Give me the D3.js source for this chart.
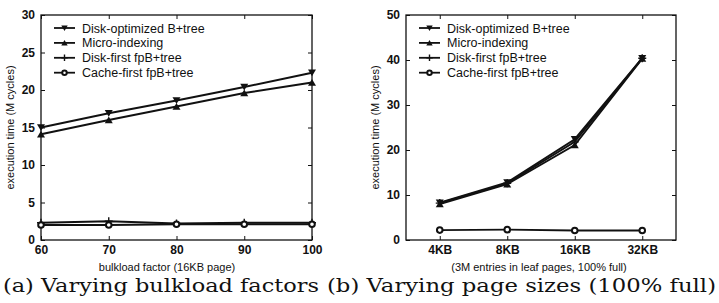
<!DOCTYPE html>
<html>
<head>
<meta charset="utf-8">
<script src="https://cdn.jsdelivr.net/npm/d3@7"></script>
<style>
  html, body { margin: 0; padding: 0; background: #fff; }
  svg { display: block; }
  .tick text { font-family: "Liberation Sans", Arial, sans-serif; font-size: 12px; font-weight: bold; fill: #111; }
  .lbl { font-family: "Liberation Sans", Arial, sans-serif; font-size: 11px; fill: #111; }
  .leg { font-family: "Liberation Sans", Arial, sans-serif; font-size: 12.5px; fill: #111; }
  .cap { font-family: "DejaVu Serif", "Liberation Serif", serif; font-size: 18px; fill: #111; }
</style>
</head>
<body>
<svg id="chart" width="719" height="303"></svg>
<script>
const seriesNames = ["Disk-optimized B+tree", "Micro-indexing", "Disk-first fpB+tree", "Cache-first fpB+tree"];
const markers = ["down", "up", "plus", "circle"];

// (a) bulkload factor
const bulkloadX = [60, 70, 80, 90, 100];
const bulkDiskOpt = [15.0, 16.9, 18.6, 20.4, 22.3];
const bulkMicro = [14.1, 16.0, 17.8, 19.6, 21.0];
const bulkDiskFirst = [2.3, 2.5, 2.2, 2.3, 2.3];
const bulkCacheFirst = [2.0, 2.0, 2.1, 2.1, 2.1];
const bulkTicksY = [0, 5, 10, 15, 20, 25, 30];

// (b) page sizes
const pageSizes = ["4KB", "8KB", "16KB", "32KB"];
const pageDiskOpt = [8.3, 12.8, 22.4, 40.4];
const pageMicro = [8.0, 12.4, 21.1, 40.3];
const pageDiskFirst = [8.2, 12.6, 21.8, 40.4];
const pageCacheFirst = [2.2, 2.3, 2.1, 2.1];
const pageTicksY = [0, 10, 20, 30, 40, 50];

const svg = d3.select("#chart");

function drawMarker(g, type, cx, cy, s) {
  if (type === "down") {
    g.append("path").attr("d", `M${cx - s},${cy - s * 0.8} L${cx + s},${cy - s * 0.8} L${cx},${cy + s * 0.9} Z`)
      .attr("fill", "#111");
  } else if (type === "up") {
    g.append("path").attr("d", `M${cx - s},${cy + s * 0.8} L${cx + s},${cy + s * 0.8} L${cx},${cy - s * 0.9} Z`)
      .attr("fill", "#111");
  } else if (type === "plus") {
    g.append("path").attr("d", `M${cx - s},${cy} L${cx + s},${cy} M${cx},${cy - s} L${cx},${cy + s}`)
      .attr("stroke", "#111").attr("stroke-width", 1.4);
  } else {
    g.append("circle").attr("cx", cx).attr("cy", cy).attr("r", s * 0.7)
      .attr("fill", "#fff").attr("stroke", "#111").attr("stroke-width", 2);
  }
}

function panel(opts) {
  const { left, right, top, bottom, x, xVals, yMax, yTicks, series, xLabel, xLabelX, caption, capX, capLen, yLabelX } = opts;
  const y = d3.scaleLinear().domain([0, yMax]).range([bottom, top]);
  const g = svg.append("g");

  // box
  g.append("rect").attr("x", left).attr("y", top).attr("width", right - left).attr("height", bottom - top)
    .attr("fill", "none").attr("stroke", "#111").attr("stroke-width", 1.3);

  // axes with inward ticks
  g.append("g").attr("transform", `translate(${left},0)`)
    .call(d3.axisLeft(y).tickValues(yTicks).tickSize(-4).tickPadding(6))
    .call(a => a.select(".domain").remove());
  g.append("g").attr("transform", `translate(${right},0)`)
    .call(d3.axisRight(y).tickValues(yTicks).tickSize(-4).tickFormat(""))
    .call(a => a.select(".domain").remove());
  g.append("g").attr("transform", `translate(0,${bottom})`)
    .call(d3.axisBottom(x).tickValues(xVals).tickSize(-4).tickPadding(5))
    .call(a => a.select(".domain").remove());
  g.append("g").attr("transform", `translate(0,${top})`)
    .call(d3.axisTop(x).tickValues(xVals).tickSize(-4).tickFormat(""))
    .call(a => a.select(".domain").remove());
  g.selectAll(".tick line").attr("stroke", "#111");

  // lines
  const line = d3.line().x((d, i) => x(xVals[i])).y(d => y(d));
  series.forEach((vals, k) => {
    g.append("path").datum(vals).attr("d", line)
      .attr("fill", "none").attr("stroke", "#111").attr("stroke-width", 1.9);
    vals.forEach((v, i) => drawMarker(g, markers[k], x(xVals[i]), y(v), 4));
  });

  // legend
  seriesNames.forEach((name, k) => {
    const ly = 28 + k * 14.9;
    g.append("line").attr("x1", left + 13).attr("x2", left + 34).attr("y1", ly).attr("y2", ly)
      .attr("stroke", "#111").attr("stroke-width", 1.8);
    drawMarker(g, markers[k], left + 23.5, ly, 3.2);
    g.append("text").attr("class", "leg").attr("x", left + 41).attr("y", ly + 4.5).text(name);
  });

  // labels
  g.append("text").attr("class", "lbl").attr("x", xLabelX).attr("y", 271)
    .attr("text-anchor", "middle").text(xLabel);
  g.append("text").attr("class", "lbl")
    .attr("transform", `translate(${yLabelX},${(top + bottom) / 2}) rotate(-90)`)
    .attr("text-anchor", "middle").text("execution time (M cycles)");
  g.append("text").attr("class", "cap").attr("x", capX).attr("y", 292)
    .attr("textLength", capLen).attr("lengthAdjust", "spacingAndGlyphs").text(caption);
}

const xa = d3.scaleLinear().domain([60, 100]).range([41, 312]);
panel({
  left: 41, right: 312, top: 15, bottom: 240, x: xa, xVals: bulkloadX,
  yMax: 30, yTicks: bulkTicksY,
  series: [bulkDiskOpt, bulkMicro, bulkDiskFirst, bulkCacheFirst],
  xLabel: "bulkload factor (16KB page)", xLabelX: 167, caption: "(a) Varying bulkload factors",
  capX: 3, capLen: 316, yLabelX: 14
});

const xb = d3.scalePoint().domain(pageSizes).range([406, 676]).padding(0.5);
panel({
  left: 406, right: 676, top: 15, bottom: 240, x: xb, xVals: pageSizes,
  yMax: 50, yTicks: pageTicksY,
  series: [pageDiskOpt, pageMicro, pageDiskFirst, pageCacheFirst],
  xLabel: "(3M entries in leaf pages, 100% full)", xLabelX: 539, caption: "(b) Varying page sizes (100% full)",
  capX: 327, capLen: 389, yLabelX: 379
});
</script>
</body>
</html>
